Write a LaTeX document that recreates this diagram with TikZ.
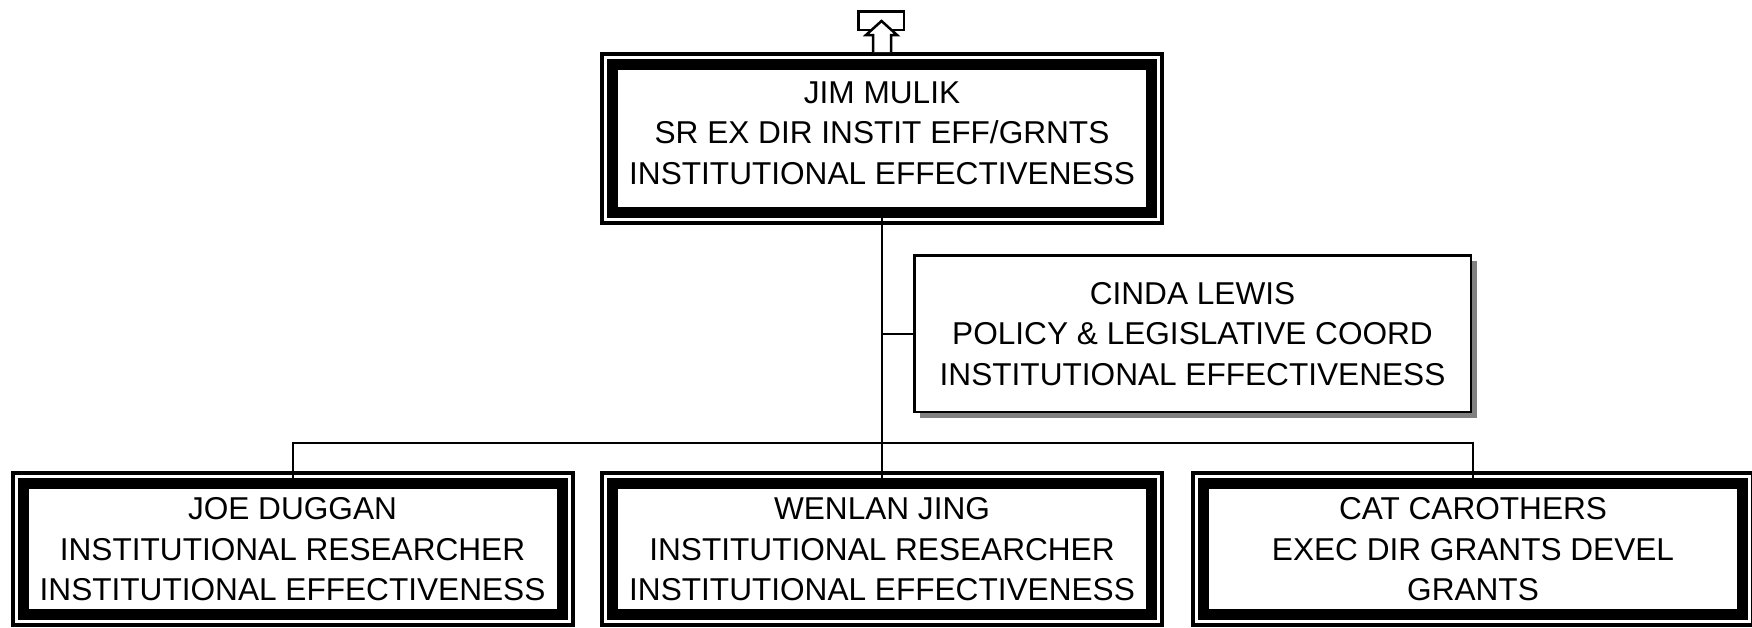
\documentclass[tikz,border=0pt]{standalone}
\usepackage{fontspec}
\setmainfont{Liberation Sans}
\usetikzlibrary{shadows}

\begin{document}
\begin{tikzpicture}[x=1pt,y=-1pt,
  staff/.style={draw, line width=11pt, fill=white, minimum width=539pt,
    minimum height=148pt, inner sep=0pt, align=center,
    font=\fontsize{31.6}{40.5}\selectfont},
  lowstaff/.style={staff, minimum height=131pt, text depth=-7pt},
  aide/.style={draw, line width=2.5pt, fill=white, minimum width=556.5pt,
    minimum height=156.5pt, inner sep=0pt, align=center,
    font=\fontsize{31.6}{40.5}\selectfont,
    drop shadow={shadow xshift=6pt, shadow yshift=-6pt, fill=black!50, opacity=1}},
  outerline/.style={line width=4pt},
  link/.style={line width=2pt}]
  \useasboundingbox (0,0) rectangle (1752,627);

  % Boxes
  \node[staff, text depth=11.6pt] (jim) at (882,138.5)
    {JIM MULIK\\SR EX DIR INSTIT EFF/GRNTS\\INSTITUTIONAL EFFECTIVENESS};
  \node[aide, text depth=-3pt] (cinda) at (1192.5,333.5)
    {CINDA LEWIS\\POLICY \& LEGISLATIVE COORD\\INSTITUTIONAL EFFECTIVENESS};
  \node[lowstaff] (joe) at (292.5,549)
    {JOE DUGGAN\\INSTITUTIONAL RESEARCHER\\INSTITUTIONAL EFFECTIVENESS};
  \node[lowstaff] (wenlan) at (882,549)
    {WENLAN JING\\INSTITUTIONAL RESEARCHER\\INSTITUTIONAL EFFECTIVENESS};
  \node[lowstaff] (cat) at (1473,549)
    {CAT CAROTHERS\\EXEC DIR GRANTS DEVEL\\GRANTS};

  % Outer frames
  \foreach \n in {jim,joe,wenlan,cat}
    \draw[outerline] ([shift={(-5pt,5pt)}]\n.north west) rectangle ([shift={(5pt,-5pt)}]\n.south east);

  % Lines
  \coordinate (bus) at (882,443);
  \draw[link] (jim.south) -- (bus);
  \draw[link] (cinda.west) -- (cinda.west -| bus);
  \draw[link] (joe.north) -- (joe.north |- bus) -- (cat.north |- bus) -- (cat.north);
  \draw[link] (bus) -- (wenlan.north);

  % Up marker
  \node[draw, line width=2.5pt, minimum width=45.5pt, minimum height=18.5pt] (upbox) at (881,20.5) {};
  \draw[line width=2.5pt, fill=white, line join=miter]
    (873,52) -- (873,35) -- (866,35) -- (881.5,21) -- (897,35) -- (891,35) -- (891,52);
\end{tikzpicture}
\end{document}
